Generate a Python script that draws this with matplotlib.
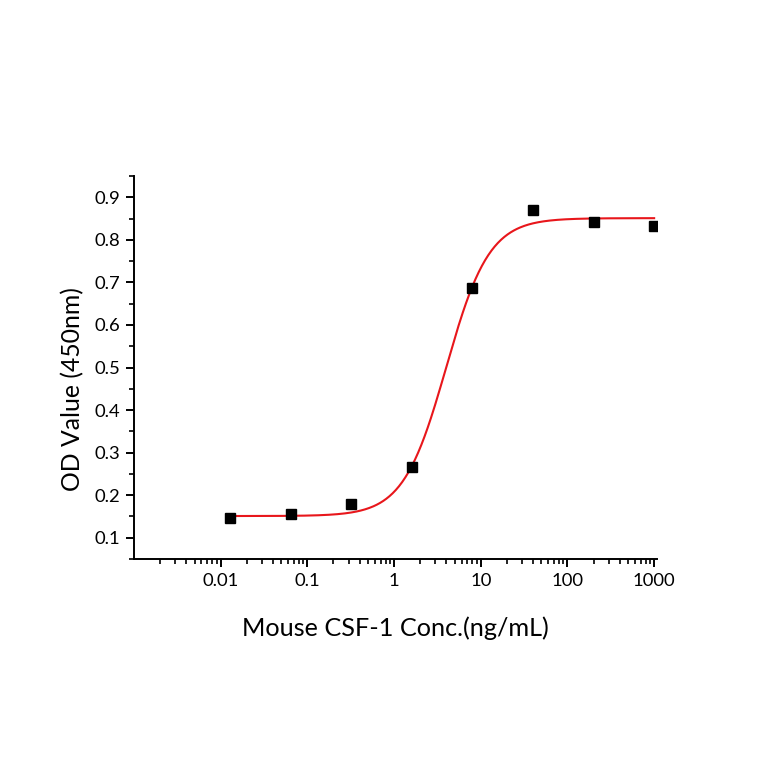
import numpy as np
import matplotlib
matplotlib.use("Agg")
import matplotlib.pyplot as plt
from matplotlib.ticker import MultipleLocator, LogLocator, FixedLocator, FixedFormatter, NullFormatter

plt.rcParams['font.family'] = ['Lato', 'DejaVu Sans']

# measured points
conc = [0.0128, 0.064, 0.32, 1.6, 8, 40, 200, 1000]
od = [0.147, 0.156, 0.180, 0.266, 0.687, 0.870, 0.842, 0.833]

# 4PL fit parameters
bottom = 0.151
top = 0.851
ec50 = 4.0
hill = 1.75

xtick_vals = [0.01, 0.1, 1, 10, 100, 1000]
xtick_labels = ['0.01', '0.1', '1', '10', '100', '1000']
ytick_vals = [0.1, 0.2, 0.3, 0.4, 0.5, 0.6, 0.7, 0.8, 0.9]

fig = plt.figure(figsize=(7.64, 7.64), dpi=100)
ax = fig.add_axes([0.1754, 0.2683, 0.6846, 0.5013])

xfit = np.logspace(np.log10(conc[0]), np.log10(conc[-1]), 400)
yfit = bottom + (top - bottom) / (1 + (ec50 / xfit) ** hill)
ax.plot(xfit, yfit, color='#e8161b', lw=1.5, zorder=2)
ax.plot(conc, od, 's', color='black', markersize=6.5, zorder=3)

ax.set_xscale('log')
ax.set_xlim(0.001, 1080)
ax.set_ylim(0.05, 0.95)

ax.xaxis.set_major_locator(FixedLocator(xtick_vals))
ax.xaxis.set_major_formatter(FixedFormatter(xtick_labels))
ax.xaxis.set_minor_locator(LogLocator(base=10, subs=np.arange(2, 10)))
ax.xaxis.set_minor_formatter(NullFormatter())
ax.yaxis.set_major_locator(FixedLocator(ytick_vals))
ax.yaxis.set_minor_locator(MultipleLocator(0.05))

for s in ['top', 'right']:
    ax.spines[s].set_visible(False)
for s in ['left', 'bottom']:
    ax.spines[s].set_linewidth(1.4)

ax.tick_params(which='major', direction='out', length=6, width=1.4, labelsize=13.3, pad=4)
ax.tick_params(which='minor', direction='out', length=3.5, width=1.2)

ax.set_xlabel('Mouse CSF-1 Conc.(ng/mL)', fontsize=18.2, labelpad=20)
ax.set_ylabel('OD Value (450nm)', fontsize=17.8, labelpad=7)
ax.yaxis.label.set_y(0.444)  # label sits a little below the axis centre

fig.savefig('out.png', dpi=100)
